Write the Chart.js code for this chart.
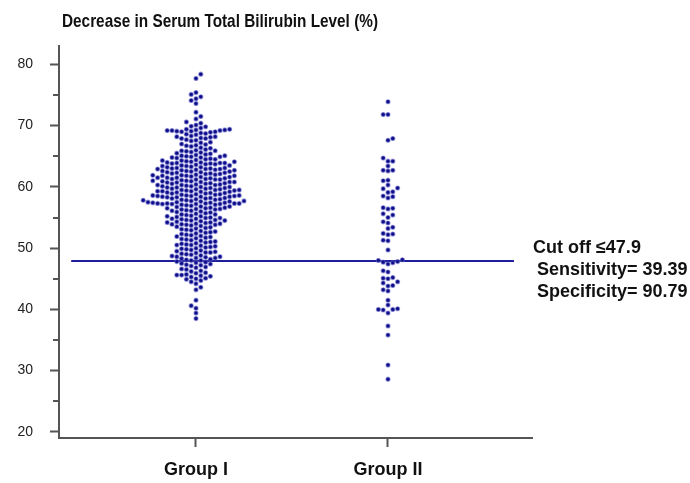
<!DOCTYPE html>
<html>
<head>
<meta charset="utf-8">
<script src="https://cdn.jsdelivr.net/npm/chart.js@4/dist/chart.umd.min.js"></script>
<style>
  body { margin: 0; background: #fff; }
</style>
</head>
<body>
<canvas id="chart" width="690" height="483"></canvas>
<script>
const groups = ["Group I", "Group II"];

// decrease in serum total bilirubin (%) per patient
const groupOne = [
  78.4, 77.7, 75.4, 75.1, 74.7, 74.4, 74.1, 73.6, 72.2, 71.5, 71.1, 70.6, 70.4, 70.1,
  69.0, 69.0, 69.1, 69.1, 69.2, 69.2, 69.2, 69.3, 69.3, 69.4, 69.4, 69.6, 69.8, 69.9,
  68.0, 68.1, 68.2, 68.2, 68.3, 68.5, 68.6, 68.7, 68.8, 68.9,
  67.0, 67.2, 67.3, 67.5, 67.6, 67.7, 67.9, 67.9,
  66.0, 66.1, 66.3, 66.4, 66.6, 66.7, 66.8, 66.9,
  65.0, 65.1, 65.1, 65.2, 65.3, 65.4, 65.5, 65.6, 65.7, 65.8, 65.9, 65.9,
  64.0, 64.0, 64.1, 64.1, 64.2, 64.3, 64.3, 64.4, 64.5, 64.5, 64.6, 64.7, 64.8, 64.8, 64.9, 64.9,
  63.0, 63.0, 63.1, 63.1, 63.2, 63.2, 63.3, 63.4, 63.4, 63.5, 63.5, 63.6, 63.7, 63.7, 63.8, 63.8, 63.9, 63.9, 63.9,
  62.0, 62.0, 62.1, 62.1, 62.2, 62.2, 62.3, 62.3, 62.4, 62.4, 62.5, 62.5, 62.6, 62.6, 62.7, 62.7, 62.8, 62.8, 62.9, 62.9, 62.9,
  61.0, 61.0, 61.1, 61.2, 61.2, 61.2, 61.3, 61.3, 61.4, 61.4, 61.5, 61.5, 61.5, 61.6, 61.6, 61.7, 61.8, 61.8, 61.8, 61.9, 61.9,
  60.0, 60.0, 60.1, 60.1, 60.2, 60.3, 60.3, 60.3, 60.4, 60.4, 60.5, 60.5, 60.6, 60.6, 60.7, 60.7, 60.8, 60.8, 60.8, 60.9, 60.9,
  59.0, 59.0, 59.1, 59.1, 59.2, 59.2, 59.3, 59.3, 59.3, 59.4, 59.4, 59.5, 59.5, 59.5, 59.6, 59.6, 59.7, 59.7, 59.8, 59.8, 59.9, 59.9,
  58.0, 58.0, 58.1, 58.1, 58.2, 58.2, 58.3, 58.3, 58.4, 58.4, 58.4, 58.5, 58.5, 58.5, 58.6, 58.6, 58.6, 58.7, 58.7, 58.8, 58.8, 58.9, 58.9,
  57.0, 57.1, 57.1, 57.2, 57.2, 57.2, 57.2, 57.3, 57.3, 57.3, 57.3, 57.3, 57.4, 57.4, 57.4, 57.5, 57.5, 57.6, 57.6, 57.7, 57.7, 57.8, 57.8, 57.9, 57.9,
  56.0, 56.1, 56.1, 56.2, 56.3, 56.3, 56.4, 56.4, 56.5, 56.5, 56.6, 56.6, 56.7, 56.8, 56.8, 56.9,
  55.0, 55.1, 55.2, 55.2, 55.3, 55.4, 55.5, 55.5, 55.6, 55.7, 55.8, 55.9,
  54.0, 54.0, 54.1, 54.2, 54.2, 54.3, 54.4, 54.5, 54.5, 54.6, 54.6, 54.7, 54.8, 54.8, 54.9, 54.9,
  53.0, 53.1, 53.2, 53.3, 53.4, 53.5, 53.6, 53.7, 53.8, 53.8, 53.9, 53.9,
  52.0, 52.1, 52.2, 52.3, 52.4, 52.5, 52.6, 52.7, 52.8, 52.9,
  51.0, 51.1, 51.2, 51.3, 51.4, 51.5, 51.6, 51.7, 51.8, 51.9,
  50.0, 50.1, 50.2, 50.3, 50.4, 50.5, 50.5, 50.6, 50.7, 50.8, 50.9,
  49.0, 49.1, 49.2, 49.3, 49.3, 49.4, 49.5, 49.6, 49.7, 49.8, 49.9,
  48.0, 48.0, 48.1, 48.2, 48.3, 48.4, 48.4, 48.5, 48.6, 48.6, 48.7, 48.8, 48.9,
  47.1, 47.2, 47.3, 47.4, 47.5, 47.6, 47.7, 47.8,
  46.0, 46.2, 46.3, 46.5, 46.6, 46.8, 46.9,
  45.0, 45.1, 45.3, 45.4, 45.5, 45.6, 45.6, 45.7, 45.9,
  44.2, 44.5, 44.7, 44.9, 43.2, 43.6,
  41.5, 40.6, 40.2, 39.4, 38.5
];

const groupTwo = [
  73.9, 71.8, 71.8, 67.9, 67.6, 64.7, 64.2, 64.2, 63.4, 62.7, 62.7, 62.6,
  61.1, 61.0, 60.3, 59.8, 59.7, 59.2, 59.1, 58.5, 58.4, 58.2,
  56.6, 56.5, 56.4, 55.6, 55.4, 55.0, 54.3, 54.1, 53.4, 53.2,
  52.4, 52.3, 52.2, 51.3, 51.2, 49.7, 48.1, 48.0,
  47.8, 47.7, 47.6, 47.4, 46.3, 46.1, 45.2, 45.1, 45.0, 44.5, 44.3,
  43.9, 43.8, 43.2, 43.0, 41.5, 40.7, 40.1, 40.0, 40.0, 39.9, 39.4,
  37.3, 35.8, 30.9, 28.6
];

const yTicks = [20, 30, 40, 50, 60, 70, 80];
const yMinorTicks = [25, 35, 45, 55, 65, 75];
const cutoff = 47.9;
const sensitivity = 39.39;
const specificity = 90.79;
const chartTitle = "Decrease in Serum Total Bilirubin Level (%)";

const dotColor = "#0c0c86";
const axisColor = "#555555";
const dotPitch = 4.8;   // horizontal spacing of swarm columns, px
const dotGap = 4.5;     // min vertical spacing in a column, px

// simple column beeswarm: each dot goes in the column closest to the centre that has room
const swarm = (values, center, chart) => {
  const xs = chart.scales.x;
  const ys = chart.scales.y;
  const cx = xs.getPixelForValue(center);
  const last = {};
  let flip = false;
  return values.slice().sort((a, b) => a - b).map((v) => {
    const py = ys.getPixelForValue(v);
    for (let k = 0; k < 60; k++) {
      const cols = k === 0 ? [0] : flip ? [k, -k] : [-k, k];
      for (const c of cols) {
        if (last[c] === undefined || last[c] - py >= dotGap) {
          last[c] = py;
          if (k > 0) flip = !flip;
          return { x: xs.getValueForPixel(cx + c * dotPitch), y: v };
        }
      }
    }
  });
};

const overlay = {
  id: "overlay",
  afterDraw(chart) {
    const ctx = chart.ctx;
    const ys = chart.scales.y;
    const left = chart.chartArea.left;
    ctx.save();
    // minor ticks
    ctx.strokeStyle = axisColor;
    ctx.lineWidth = 2;
    yMinorTicks.forEach((v) => {
      const py = Math.round(ys.getPixelForValue(v));
      ctx.beginPath();
      ctx.moveTo(left - 6, py);
      ctx.lineTo(left, py);
      ctx.stroke();
    });
    ctx.fillStyle = "#111";
    ctx.textBaseline = "alphabetic";
    ctx.textAlign = "left";
    // title is set in a narrow bold face in the original, squeeze it to fit
    ctx.font = "bold 18.5px 'Liberation Sans', Arial, sans-serif";
    const w = ctx.measureText(chartTitle).width;
    ctx.save();
    ctx.translate(62, 27);
    ctx.scale(316 / w, 1);
    ctx.fillText(chartTitle, 0, 0);
    ctx.restore();
    ctx.font = "bold 18px 'Liberation Sans', Arial, sans-serif";
    ctx.fillText("Cut off \u2264" + cutoff, 533, 253);
    ctx.fillText("Sensitivity= " + sensitivity, 537, 275);
    ctx.fillText("Specificity= " + specificity, 537, 297);
    ctx.restore();
  },
};

const chart = new Chart(document.getElementById("chart").getContext("2d"), {
  type: "scatter",
  data: {
    datasets: [
      {
        label: groups[0],
        data: groupOne.map((v) => ({ x: 1, y: v })),
        backgroundColor: dotColor,
        borderColor: "rgba(100,100,200,0.55)",
        borderWidth: 1.2,
        pointRadius: 2,
      },
      {
        label: groups[1],
        data: groupTwo.map((v) => ({ x: 2, y: v })),
        backgroundColor: dotColor,
        borderColor: "rgba(100,100,200,0.55)",
        borderWidth: 1.2,
        pointRadius: 2,
      },
      {
        type: "line",
        label: "cut off",
        data: [
          { x: 0.35, y: cutoff },
          { x: 2.656, y: cutoff },
        ],
        borderColor: "#1e1e9c",
        borderWidth: 1.8,
        pointRadius: 0,
        order: 5,
      },
    ],
  },
  options: {
    responsive: false,
    animation: false,
    layout: { padding: { top: 46, right: 158, left: 0, bottom: 0 } },
    plugins: {
      legend: { display: false },
      tooltip: { enabled: false },
    },
    scales: {
      x: {
        type: "linear",
        min: 0.2865,
        max: 2.75,
        afterBuildTicks: (scale) => {
          scale.ticks = [{ value: 1 }, { value: 2 }];
        },
        afterFit: (scale) => {
          scale.height = 45;
        },
        ticks: {
          callback: (v) => groups[v - 1],
          autoSkip: false,
          maxRotation: 0,
          padding: 12,
          color: "#111",
          font: { family: "'Liberation Sans', Arial", size: 18, weight: "bold" },
        },
        grid: { drawOnChartArea: false, tickLength: 9, color: axisColor, tickWidth: 2 },
        border: { color: axisColor, width: 2 },
      },
      y: {
        min: 19,
        max: 83,
        afterBuildTicks: (scale) => {
          scale.ticks = yTicks.map((v) => ({ value: v }));
        },
        afterFit: (scale) => {
          scale.width = 59;
        },
        ticks: {
          padding: 17,
          color: "#222",
          font: { family: "'Liberation Sans', Arial", size: 14 },
        },
        grid: { drawOnChartArea: false, tickLength: 9, color: axisColor, tickWidth: 2 },
        border: { color: axisColor, width: 2 },
      },
    },
  },
  plugins: [overlay],
});

chart.data.datasets[0].data = swarm(groupOne, 1, chart);
chart.data.datasets[1].data = swarm(groupTwo, 2, chart);
chart.update("none");
</script>
</body>
</html>
